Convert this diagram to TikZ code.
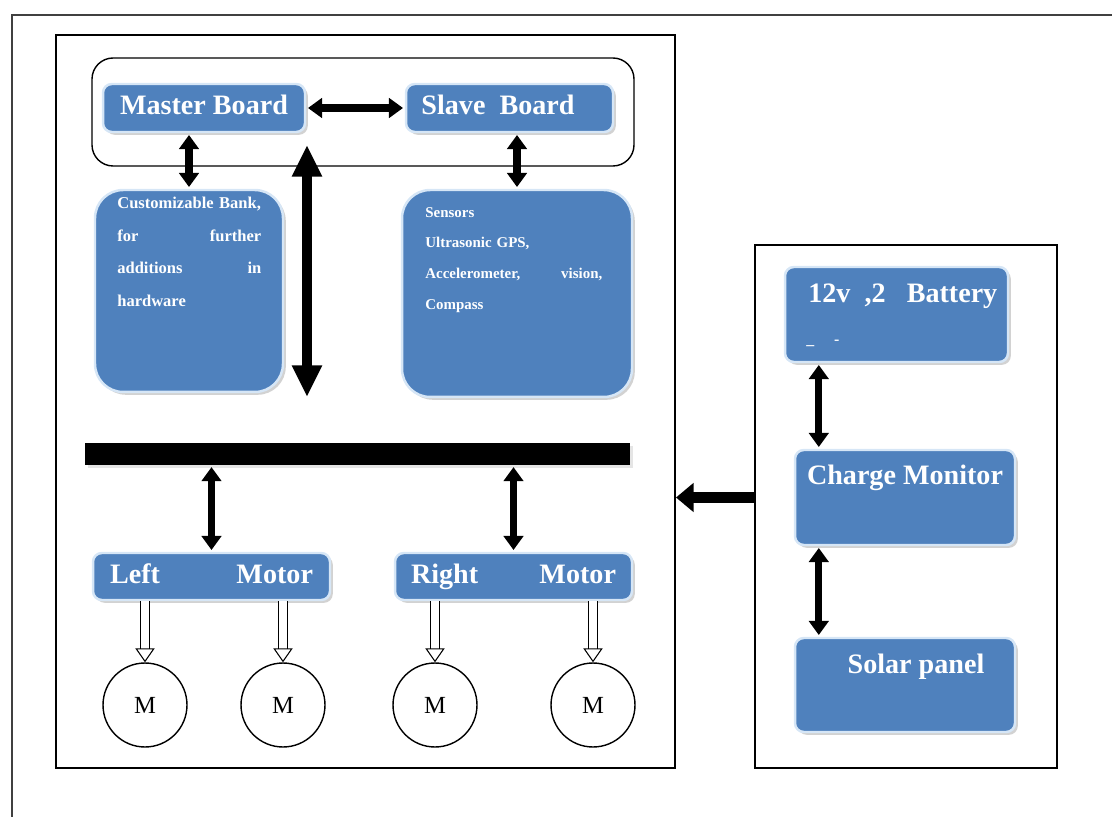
\documentclass[tikz,border=0pt]{standalone}
\usepackage{fontspec}
\setmainfont{Liberation Serif}
\usepackage{tikz}
\usetikzlibrary{shapes,arrows.meta,shadows}
\definecolor{boxblue}{RGB}{79,129,189}
\definecolor{boxedge}{RGB}{214,230,246}
\tikzstyle{block} = [rectangle, rounded corners=5pt, fill=boxblue, draw=boxedge, line width=1.4pt, drop shadow={shadow xshift=1.6pt, shadow yshift=-1.6pt, fill=black!35}, text=white, inner sep=0pt]
\tikzstyle{bigtext} = [text=white, font=\bfseries\fontsize{16}{19}\selectfont, inner sep=0pt, text height=11pt, text depth=3.5pt]
\tikzstyle{smalltext} = [text=white, font=\bfseries\fontsize{9.4}{18.5}\selectfont, inner sep=0pt, align=left]
\tikzstyle{line} = [draw, line width=4pt, {Triangle[length=8pt,width=11pt]}-{Triangle[length=8pt,width=11pt]}, shorten <=1pt, shorten >=1pt]
\tikzstyle{longline} = [draw, line width=6pt, {Triangle[length=18pt,width=16pt]}-{Triangle[length=18pt,width=16pt]}]
\tikzstyle{leftline} = [draw, line width=6pt, -{Triangle[length=10pt,width=16pt]}]
\tikzstyle{hollow} = [draw, double=white, double distance=4pt, line width=0.6pt, -{Triangle[open,length=8pt,width=11pt]}]
\tikzstyle{motor} = [circle, draw, line width=0.8pt, minimum size=1.68cm, inner sep=0pt, font=\fontsize{14}{16}\selectfont]
\tikzstyle{frame} = [draw, line width=1.2pt, inner sep=0pt]

\begin{document}
\begin{tikzpicture}[x=0.02cm, y=-0.02cm]
\useasboundingbox (0,0) rectangle (1112,817);
\draw [line width=1.2pt, black!75] (12,817) -- (12,15) -- (1112,15);

% frames
\node [frame, minimum width=12.38cm, minimum height=14.66cm] (sysbox) at (365.5,401.5) {};
\node [frame, minimum width=6.04cm, minimum height=10.46cm] (pwrbox) at (906,506.5) {};
\draw [line width=0.8pt, rounded corners=12pt] (92,58) rectangle (634,166);

% boards
\node [block, minimum width=4.04cm, minimum height=0.96cm] (master) at (204,108) {};
\node [bigtext] at (master) {Master Board};
\node [block, minimum width=4.14cm, minimum height=0.96cm] (slave) at (509.5,108) {};
\node [bigtext] at (498,108) {Slave\ \ Board};
\node [block, rounded corners=16pt, minimum width=3.76cm, minimum height=4.04cm] (bank) at (189,291) {};
\node [smalltext, text width=2.88cm, anchor=north west] at (117,197) {Customizable Bank,\\ for\hfill further\\ additions\hfill in\\ hardware};
\node [block, rounded corners=16pt, minimum width=4.6cm, minimum height=4.14cm] (sensors) at (517,293.5) {};
\node [smalltext, text width=3.54cm, anchor=north west, font=\bfseries\fontsize{8.5}{17.5}\selectfont] at (425,207) {Sensors\\ Ultrasonic GPS,\\ Accelerometer,\hfill vision,\\ Compass};

% bus and motor drivers
\node [fill=black, minimum width=10.9cm, minimum height=0.44cm, inner sep=0pt, drop shadow={shadow xshift=1.6pt, shadow yshift=-1.6pt, fill=black!20}] (bar) at (357.5,454) {};
\node [block, minimum width=4.74cm, minimum height=0.94cm] (lmotor) at (211.5,576.5) {};
\node [bigtext, text width=4.06cm] at (lmotor) {Left\hfill Motor};
\node [block, minimum width=4.74cm, minimum height=0.94cm] (rmotor) at (513.5,576.5) {};
\node [bigtext, text width=4.1cm] at (rmotor) {Right\hfill Motor};

\node [motor] (m1) at (145,705) {M};
\node [motor] (m2) at (283,705) {M};
\node [motor] (m3) at (435,705) {M};
\node [motor] (m4) at (593,705) {M};

% power side
\node [block, minimum width=4.46cm, minimum height=1.9cm] (battery) at (896.5,314.5) {};
\node [bigtext, anchor=west] at (808,296) {12v\ \ ,2\ \ \ Battery};
\node [text=white, font=\bfseries\fontsize{9}{10}\selectfont, anchor=west, inner sep=0pt] at (806,343) {\_\ \ \ \ \ -};
\node [block, minimum width=4.4cm, minimum height=1.9cm] (cmon) at (905,497.5) {};
\node [bigtext] at (905,478) {Charge Monitor};
\node [block, minimum width=4.4cm, minimum height=1.88cm] (solar) at (905,685) {};
\node [bigtext] at (916,667) {Solar panel};

% connections
\coordinate (vtop) at (307,145);
\coordinate (vbot) at (307,397);
\coordinate (bs) at ([xshift=0.5cm]cmon.north west);
\coordinate (ss) at ([xshift=0.5cm]solar.north west);
\path [line] (master.east) -- (slave.west);
\path [line] (bank.north |- master.south) -- (bank.north);
\path [line] (sensors.north |- slave.south) -- (sensors.north);
\path [longline] (vtop) -- (vbot);
\path [line] (bar.south -| lmotor.north) -- (lmotor.north);
\path [line] (bar.south -| rmotor.north) -- (rmotor.north);
\path [line] (bs |- battery.south) -- (bs);
\path [line] (ss |- cmon.south) -- (ss);
\path [leftline] (pwrbox.west |- cmon.west) -- (sysbox.east |- cmon.west);
\draw [hollow] (lmotor.south -| m1.north) -- (m1.north);
\draw [hollow] (lmotor.south -| m2.north) -- (m2.north);
\draw [hollow] (rmotor.south -| m3.north) -- (m3.north);
\draw [hollow] (rmotor.south -| m4.north) -- (m4.north);
\end{tikzpicture}
\end{document}
